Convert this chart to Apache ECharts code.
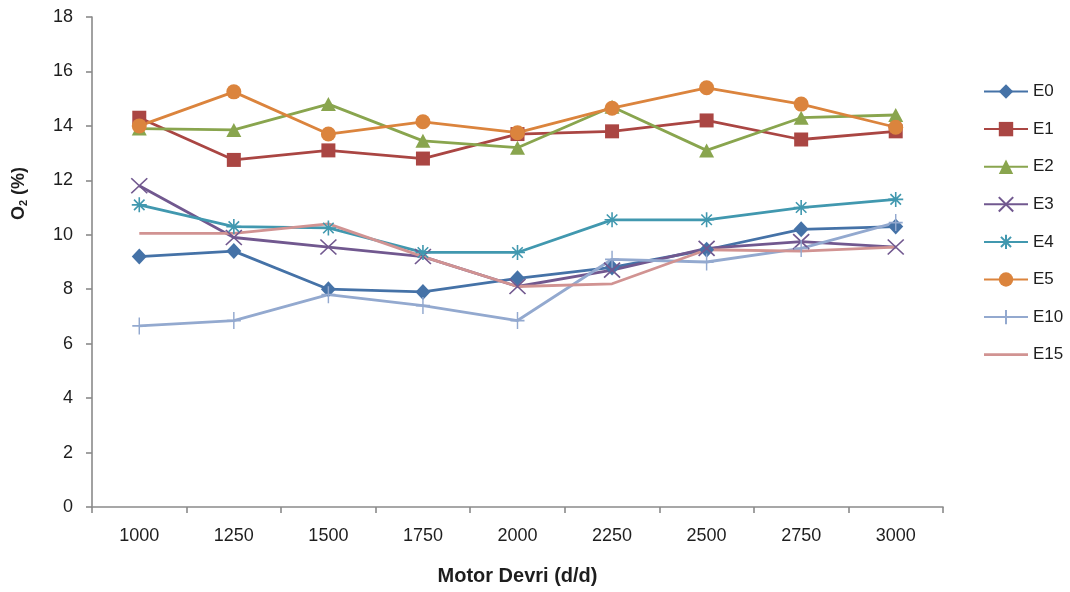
<!DOCTYPE html>
<html>
<head>
<meta charset="utf-8">
<script src="https://cdn.jsdelivr.net/npm/echarts@6/dist/echarts.min.js"></script>
<style>
  html, body { margin: 0; padding: 0; background: #fff; }
  #chart { width: 1070px; height: 592px; }
</style>
</head>
<body>
<div id="chart"></div>
<script>
// Engine speed (rpm) categories
const speeds = ['1000', '1250', '1500', '1750', '2000', '2250', '2500', '2750', '3000'];

// O2 (%) for each fuel blend
const E0  = [9.2, 9.4, 8.0, 7.9, 8.4, 8.8, 9.45, 10.2, 10.3];
const E1  = [14.3, 12.75, 13.1, 12.8, 13.7, 13.8, 14.2, 13.5, 13.8];
const E2  = [13.9, 13.85, 14.8, 13.45, 13.2, 14.7, 13.1, 14.3, 14.4];
const E3  = [11.8, 9.9, 9.55, 9.2, 8.1, 8.7, 9.5, 9.75, 9.55];
const E4  = [11.1, 10.3, 10.25, 9.35, 9.35, 10.55, 10.55, 11.0, 11.3];
const E5  = [14.0, 15.25, 13.7, 14.15, 13.75, 14.65, 15.4, 14.8, 13.95];
const E10 = [6.65, 6.85, 7.8, 7.4, 6.85, 9.1, 9.0, 9.5, 10.45];
const E15 = [10.05, 10.05, 10.4, 9.2, 8.1, 8.2, 9.45, 9.4, 9.55];

const yTicks = { min: 0, max: 18, interval: 2 };

const FONT = '"Liberation Sans", Arial, sans-serif';
const TEXT = '#1e1e1e';
const AXIS = '#8a8a8a';

// Stroke-only marker outlines
const crossPath = 'path://M0,0 L10,10 M10,0 L0,10';
const starPath = 'path://M5,0 L5,10 M0,5 L10,5 M1.5,1.5 L8.5,8.5 M8.5,1.5 L1.5,8.5';
const plusPath = 'path://M5,0 L5,10 M0,5 L10,5';
// Plain line swatch for the marker-less series
const barIcon = 'path://M0,0 L44,0 L44,2.8 L0,2.8 Z';

function line(name, data, color, symbol, size, extra) {
  return Object.assign({
    name: name,
    type: 'line',
    data: data,
    symbol: symbol,
    symbolSize: size,
    showSymbol: symbol !== 'none',
    color: color,
    lineStyle: { width: 2.8, color: color },
    itemStyle: { color: color },
    emphasis: { disabled: true },
    z: 2
  }, extra || {});
}

function outline(color) {
  return { itemStyle: { color: 'rgba(0,0,0,0)', borderColor: color, borderWidth: 1.6 } };
}

const series = [
  line('E0', E0, '#4572A7', 'diamond', [15, 16]),
  line('E1', E1, '#AA4643', 'rect', 14),
  line('E2', E2, '#89A54E', 'triangle', [15, 14]),
  line('E3', E3, '#71588F', crossPath, [16, 15], outline('#71588F')),
  line('E4', E4, '#4198AF', starPath, 15, outline('#4198AF')),
  line('E5', E5, '#DB843D', 'circle', 15),
  line('E10', E10, '#93A9CF', plusPath, [14, 17], outline('#93A9CF')),
  line('E15', E15, '#D19392', 'none', 0)
];

const chart = echarts.init(document.getElementById('chart'), null, { renderer: 'canvas' });

chart.setOption({
  animation: false,
  backgroundColor: '#ffffff',
  textStyle: { fontFamily: FONT },
  grid: { left: 92, right: 127, top: 17, bottom: 85, containLabel: false },
  legend: {
    orient: 'vertical',
    left: 983,
    top: 83,
    padding: 0,
    itemWidth: 44,
    itemHeight: 18,
    itemGap: 20.6,
    textStyle: { fontFamily: FONT, fontSize: 17, color: TEXT },
    data: series.map(s => s.symbol === 'none'
      ? { name: s.name, icon: barIcon, itemStyle: { color: '#D19392' } }
      : s.name)
  },
  xAxis: {
    type: 'category',
    data: speeds,
    boundaryGap: true,
    name: 'Motor Devri (d/d)',
    nameLocation: 'middle',
    nameGap: 59,
    nameTextStyle: { fontFamily: FONT, fontSize: 20, fontWeight: 'bold', color: TEXT },
    axisLine: { lineStyle: { color: AXIS, width: 1.6 } },
    axisTick: { show: true, alignWithLabel: false, length: 6, lineStyle: { color: AXIS, width: 1.6 } },
    axisLabel: { fontFamily: FONT, fontSize: 18, color: TEXT, margin: 20 },
    splitLine: { show: false }
  },
  yAxis: {
    type: 'value',
    min: yTicks.min,
    max: yTicks.max,
    interval: yTicks.interval,
    axisLine: { show: true, lineStyle: { color: AXIS, width: 1.6 } },
    axisTick: { show: true, length: 6, lineStyle: { color: AXIS, width: 1.6 } },
    axisLabel: { fontFamily: FONT, fontSize: 18, color: TEXT, margin: 19 },
    splitLine: { show: false }
  },
  graphic: [{
    type: 'text',
    left: 10,
    top: 167,
    rotation: Math.PI / 2,
    style: {
      text: '{b|O}{s|2}{b| (%)}',
      rich: {
        b: { fontFamily: FONT, fontSize: 18, fontWeight: 'bold', fill: TEXT },
        s: { fontFamily: FONT, fontSize: 11, fontWeight: 'bold', fill: TEXT, verticalAlign: 'bottom', padding: [10, 0, 0, 0] }
      }
    }
  }],
  series: series
});
</script>
</body>
</html>
